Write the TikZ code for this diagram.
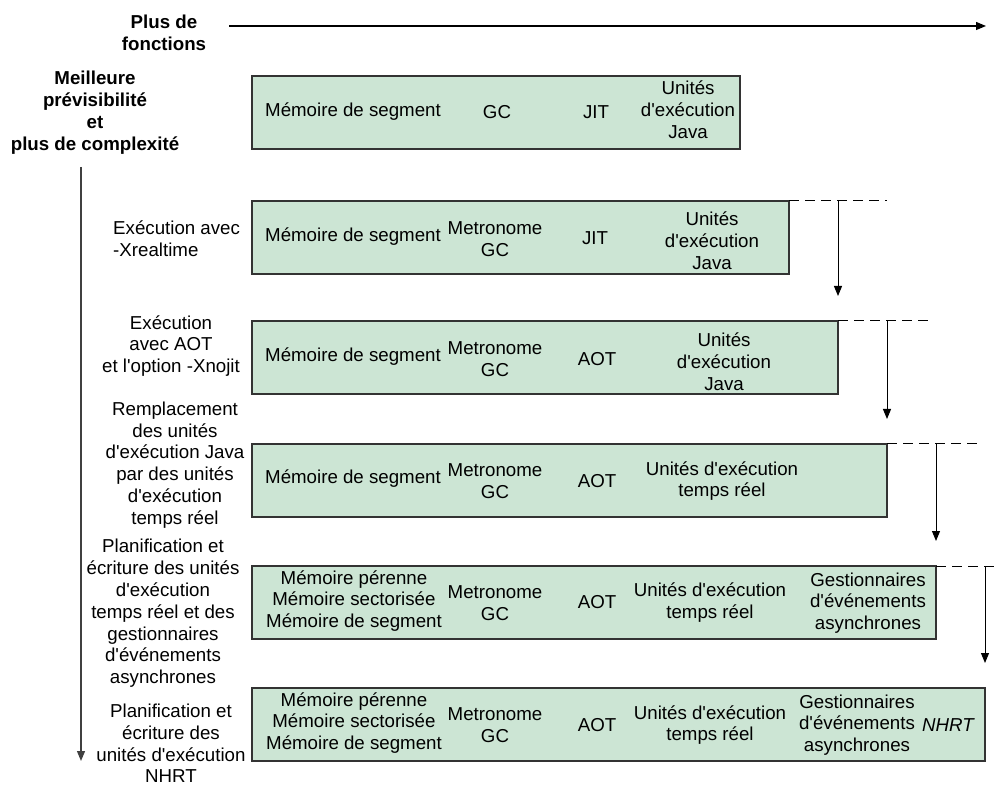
\documentclass[tikz,border=0pt]{standalone}
\usepackage{fontspec}
\setmainfont{Liberation Sans}
\usetikzlibrary{arrows.meta}
\definecolor{barfill}{HTML}{CCE5D4}
\definecolor{barline}{HTML}{333333}
\newcommand{\myap}{\textquotesingle}
\begin{document}
\begin{tikzpicture}[x=1pt,y=-1pt,
  bar/.style={draw=barline, line width=1.4pt, fill=barfill, anchor=north west,
    minimum height=73pt, inner sep=0pt, outer sep=0pt},
  txt/.style={font=\fontsize{18.7}{21.8}\selectfont, align=center, inner sep=0pt},
  btxt/.style={txt, font=\fontsize{18.7}{21.8}\selectfont\bfseries},
  dashline/.style={line width=1pt, dash pattern=on 10pt off 6pt},
  down/.style={line width=1pt, -{Triangle[length=10pt,width=8pt]}},
  axis/.style={line width=1.2pt, -{Triangle[length=10pt,width=8pt]}}
]
\useasboundingbox (0,0) rectangle (997,786);

% axes
\coordinate (h0) at (229,26);
\coordinate (h1) at (986,26);
\draw[axis] (h0) -- (h1);
\coordinate (v0) at (81,167);
\coordinate (v1) at (81,761);
\draw[axis, draw=black!75] (v0) -- (v1);

\node[btxt] (plus) at (164,33) {Plus de\\fonctions};
\node[btxt] (meil) at (95,112.5) {Meilleure\\prévisibilité\\et\\plus de complexité};

% bars
\node[bar, minimum width=488pt] (b1) at (252,76) {};
\node[bar, minimum width=537pt] (b2) at (252,201) {};
\node[bar, minimum width=586pt] (b3) at (252,321) {};
\node[bar, minimum width=635pt] (b4) at (252,444) {};
\node[bar, minimum width=684pt] (b5) at (252,566) {};
\node[bar, minimum width=733pt] (b6) at (252,688) {};

% dashed extensions and arrows
\coordinate (d2) at (887,201);
\coordinate (d3) at (933,321);
\coordinate (d4) at (982,444);
\coordinate (d5) at (994,566);
\draw[dashline] (b2.north east) -- (d2);
\draw[dashline] (b3.north east) -- (d3);
\draw[dashline] (b4.north east) -- (d4);
\draw[dashline] (b5.north east) -- (d5);
\draw[down] (b2.north -| b3.north east) -- ([yshift=25pt]b3.north east);
\draw[down] (b3.north -| b4.north east) -- ([yshift=25pt]b4.north east);
\draw[down] (b4.north -| b5.north east) -- ([yshift=25pt]b5.north east);
\draw[down] (b5.north -| b6.north east) -- ([yshift=25pt]b6.north east);

% bar 1
\node[txt] (m1) at (353,112) {Mémoire de segment};
\node[txt] (g1) at (497,112) {GC};
\node[txt] (j1) at (596,112) {JIT};
\node[txt] (u1) at (688,110) {Unités\\d\myap exécution\\Java};

% bar 2
\node[txt] (m2) at (353,237) {Mémoire de segment};
\node[txt] (g2) at (495,239) {Metronome\\GC};
\node[txt] (j2) at (595,238) {JIT};
\node[txt] (u2) at (712,241) {Unités\\d\myap exécution\\Java};

% bar 3
\node[txt] (m3) at (353,357) {Mémoire de segment};
\node[txt] (g3) at (495,359) {Metronome\\GC};
\node[txt] (a3) at (597,359) {AOT};
\node[txt] (u3) at (724,362) {Unités\\d\myap exécution\\Java};

% bar 4
\node[txt] (m4) at (353,479) {Mémoire de segment};
\node[txt] (g4) at (495,481) {Metronome\\GC};
\node[txt] (a4) at (597,481) {AOT};
\node[txt] (u4) at (722,481) {Unités d\myap exécution\\temps réel};

% bar 5
\node[txt] (m5) at (354,601) {Mémoire pérenne\\Mémoire sectorisée\\Mémoire de segment};
\node[txt] (g5) at (495,603) {Metronome\\GC};
\node[txt] (a5) at (597,602) {AOT};
\node[txt] (u5) at (710,602.5) {Unités d\myap exécution\\temps réel};
\node[txt] (e5) at (868,603) {Gestionnaires\\d\myap événements\\asynchrones};

% bar 6
\node[txt] (m6) at (354,723) {Mémoire pérenne\\Mémoire sectorisée\\Mémoire de segment};
\node[txt] (g6) at (495,725) {Metronome\\GC};
\node[txt] (a6) at (597,725) {AOT};
\node[txt] (u6) at (710,725) {Unités d\myap exécution\\temps réel};
\node[txt] (e6) at (857,725) {Gestionnaires\\d\myap événements\\asynchrones};
\node[txt, font=\fontsize{18.7}{21.8}\selectfont\itshape] (n6) at (948,725) {NHRT};

% left labels
\node[txt, align=left, anchor=west] (l2) at (113,238.5) {Exécution avec\\-Xrealtime};
\node[txt] (l3) at (171,346) {Exécution\\avec AOT\\et l\myap option -Xnojit};
\node[txt] (l4) at (175,465) {Remplacement\\des unités\\d\myap exécution Java\\par des unités\\d\myap exécution\\temps réel};
\node[txt] (l5) at (163,613.5) {Planification et\\écriture des unités\\d\myap exécution\\temps réel et des\\gestionnaires\\d\myap événements\\asynchrones};
\node[txt] (l6) at (171,743.5) {Planification et\\écriture des\\unités d\myap exécution\\NHRT};
\end{tikzpicture}
\end{document}
